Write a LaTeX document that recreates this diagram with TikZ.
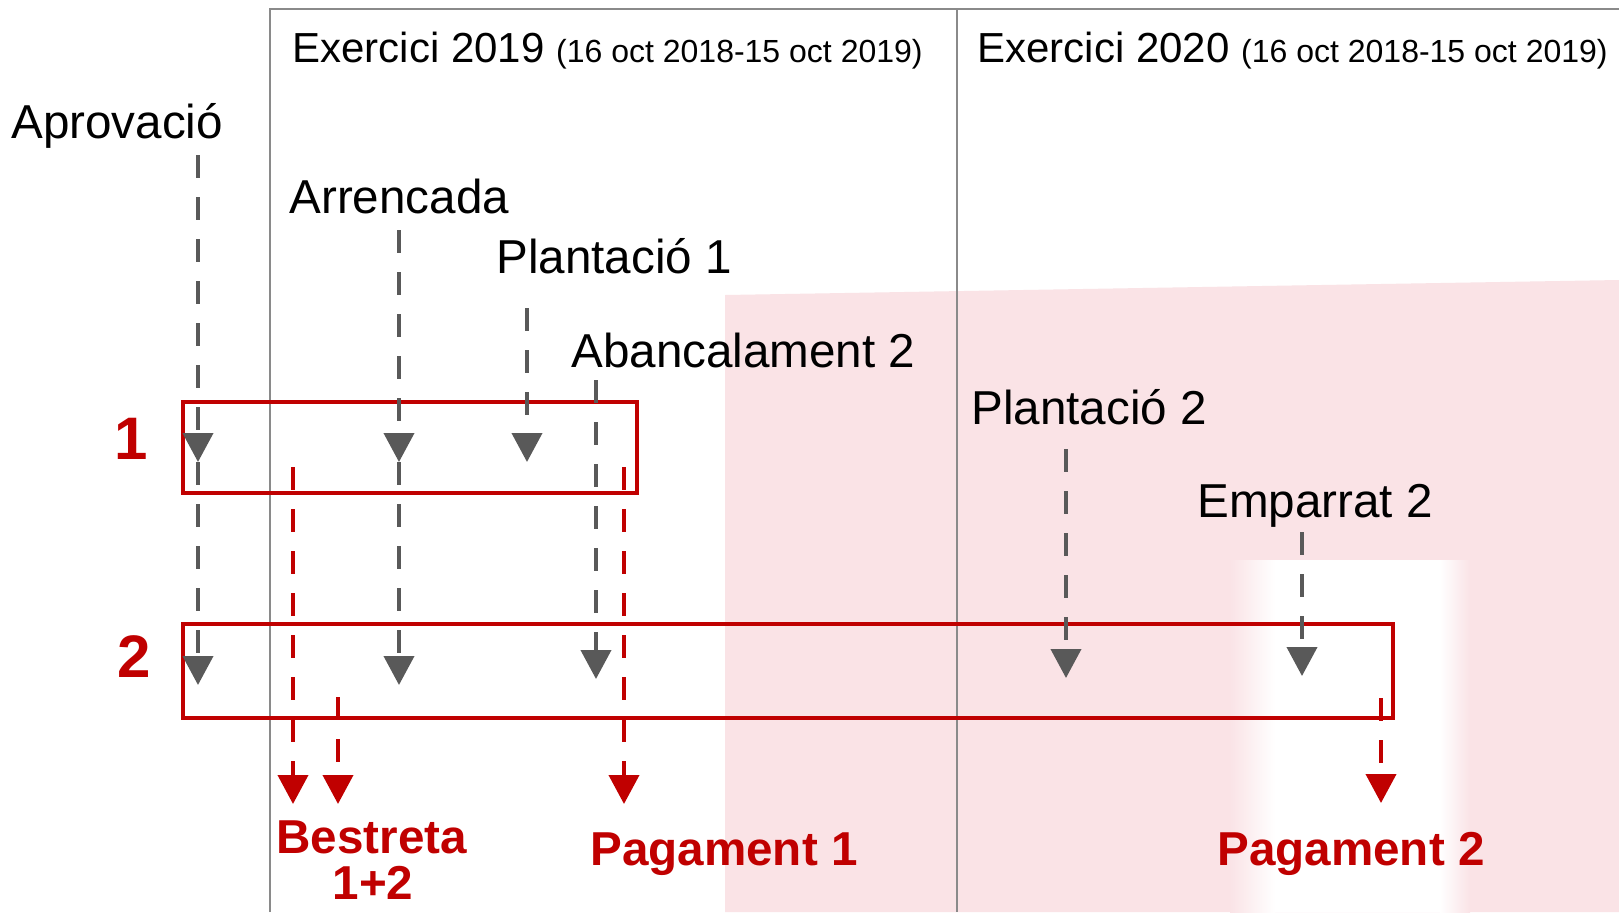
\documentclass[tikz,border=0pt]{standalone}
\usepackage{fontspec}
\setmainfont{Liberation Sans}
\usetikzlibrary{arrows.meta}
\definecolor{dred}{RGB}{192,0,0}
\definecolor{agray}{RGB}{89,89,89}
\definecolor{fgray}{RGB}{138,138,138}
\definecolor{bgpink}{RGB}{250,227,230}
\begin{document}
\begin{tikzpicture}[x=0.5pt,y=-0.5pt,
  garrow/.style={draw=agray,line width=2pt,dash pattern=on 11.5pt off 9.5pt,-{Triangle[width=15pt,length=14.5pt]}},
  rarrow/.style={draw=dred,line width=2pt,dash pattern=on 11.5pt off 9.5pt,-{Triangle[width=15pt,length=14.5pt]}},
  lbl/.style={anchor=base west,inner sep=0pt,font=\fontsize{23.8}{28}\selectfont},
  rlbl/.style={anchor=base west,inner sep=0pt,text=dred,font=\fontsize{23.8}{28}\selectfont\bfseries},
  hdr/.style={anchor=base west,inner sep=0pt,font=\fontsize{21}{25}\selectfont},
  num/.style={anchor=base,inner sep=0pt,text=dred,font=\fontsize{30}{36}\selectfont\bfseries},
  framel/.style={draw=fgray,line width=1pt},
  redbox/.style={draw=dred,line width=2pt},
]
\useasboundingbox (0,0) rectangle (1619,912);
\fill[white] (0,0) rectangle (1619,912);
% faint background
\fill[bgpink] (725,295) -- (1619,280) -- (1619,912) -- (725,912) -- cycle;
\shade[left color=bgpink,right color=white] (1230,560) rectangle (1275,912);
\fill[white] (1275,560) rectangle (1440,912);
\shade[left color=white,right color=bgpink] (1440,560) rectangle (1470,912);

% frame
\draw[framel] (270,912) -- (270,9) -- (1619,9);
\draw[framel] (957,9) -- (957,912);

% boxes
\draw[redbox] (183,402) rectangle (637,493);
\draw[redbox] (183,624) rectangle (1393,718);

% headers
\node[hdr] (ex19) at (292,62) {Exercici 2019 {\fontsize{16}{19}\selectfont(16 oct 2018-15 oct 2019)}};
\node[hdr] (ex20) at (977,62) {Exercici 2020 {\fontsize{16}{19}\selectfont(16 oct 2018-15 oct 2019)}};

% labels
\node[lbl] (aprov) at (11,138) {Aprovació};
\node[lbl] (arr) at (289,213) {Arrencada};
\node[lbl] (pl1) at (496,273) {Plantació 1};
\node[lbl] (aban) at (571,367) {Abancalament 2};
\node[lbl] (pl2) at (971,424) {Plantació 2};
\node[lbl] (emp) at (1197,517) {Emparrat 2};

\node[num] (n1) at (131,459) {1};
\node[num] (n2) at (134,677) {2};

\node[rlbl] (best) at (276,853) {Bestreta};
\node[anchor=base,inner sep=0pt,text depth=0pt,text=dred,font=\fontsize{23.8}{28}\selectfont\bfseries] (best2) at (373,899) {1+2};
\node[rlbl] (pag1) at (590,865) {Pagament 1};
\node[rlbl] (pag2) at (1217,865) {Pagament 2};

% coordinates
\coordinate (apS) at (198,155); \coordinate (apM) at (198,462); \coordinate (apE) at (198,685);
\coordinate (arS) at (399,230); \coordinate (arM) at (399,462); \coordinate (arE) at (399,685);
\coordinate (p1S) at (527,308); \coordinate (p1E) at (527,462);
\coordinate (abS) at (596,380); \coordinate (abE) at (596,679);
\coordinate (p2S) at (1066,449); \coordinate (p2E) at (1066,678);
\coordinate (emS) at (1302,532); \coordinate (emE) at (1302,676);
\coordinate (b1S) at (293,467); \coordinate (b1E) at (293,804);
\coordinate (b2S) at (338,697); \coordinate (b2E) at (338,804);
\coordinate (g1S) at (624,467); \coordinate (g1E) at (624,804);
\coordinate (g2S) at (1381,698); \coordinate (g2E) at (1381,803);

% red arrows
\draw[rarrow] (b1S) -- (b1E);
\draw[rarrow] (b2S) -- (b2E);
\draw[rarrow] (g1S) -- (g1E);
\draw[rarrow] (g2S) -- (g2E);

% gray arrows
\draw[garrow] (apS) -- (apM);
\draw[garrow] (apM) -- (apE);
\draw[garrow] (arS) -- (arM);
\draw[garrow] (arM) -- (arE);
\draw[garrow] (p1S) -- (p1E);
\draw[garrow] (abS) -- (abE);
\draw[garrow] (p2S) -- (p2E);
\draw[garrow] (emS) -- (emE);
\end{tikzpicture}
\end{document}
